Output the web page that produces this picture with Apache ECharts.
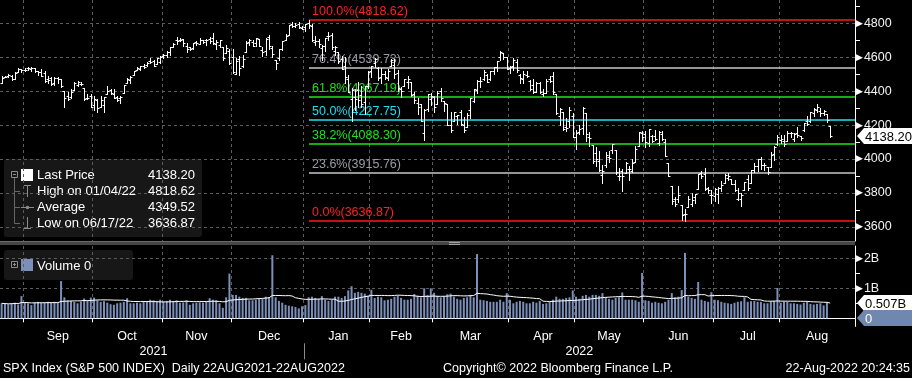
<!DOCTYPE html>
<html>
<head>
<meta charset="utf-8">
<title>SPX Index</title>
<script src="https://cdn.jsdelivr.net/npm/echarts@6/dist/echarts.min.js"></script>
<style>
html, body { margin: 0; padding: 0; background: #000; }
#main { width: 912px; height: 378px; }
</style>
</head>
<body>
<div id="main"></div>
<script>
// trading days per month (Aug 2022 runs to month end, later days have no data)
var months = ['2021-08', '2021-09', '2021-10', '2021-11', '2021-12', '2022-01', '2022-02',
              '2022-03', '2022-04', '2022-05', '2022-06', '2022-07', '2022-08'];
var monthDays = [
  [23,24,25,26,27,30,31],
  [1,2,3,7,8,9,10,13,14,15,16,17,20,21,22,23,24,27,28,29,30],
  [1,4,5,6,7,8,11,12,13,14,15,18,19,20,21,22,25,26,27,28,29],
  [1,2,3,4,5,8,9,10,11,12,15,16,17,18,19,22,23,24,26,29,30],
  [1,2,3,6,7,8,9,10,13,14,15,16,17,20,21,22,23,27,28,29,30,31],
  [3,4,5,6,7,10,11,12,13,14,18,19,20,21,24,25,26,27,28,31],
  [1,2,3,4,7,8,9,10,11,14,15,16,17,18,22,23,24,25,28],
  [1,2,3,4,7,8,9,10,11,14,15,16,17,18,21,22,23,24,25,28,29,30,31],
  [1,4,5,6,7,8,11,12,13,14,18,19,20,21,22,25,26,27,28,29],
  [2,3,4,5,6,9,10,11,12,13,16,17,18,19,20,23,24,25,26,27,31],
  [1,2,3,6,7,8,9,10,13,14,15,16,17,21,22,23,24,27,28,29,30],
  [1,5,6,7,8,11,12,13,14,15,18,19,20,21,22,25,26,27,28,29],
  [1,2,3,4,5,8,9,10,11,12,15,16,17,18,19,22,23,24,25,26,29,30,31]
];
var monthNames = ['Jan','Feb','Mar','Apr','May','Jun','Jul','Aug','Sep','Oct','Nov','Dec'];

var open = [
  4450,4484,4490,4493,4474,4514,4529,
  4528,4535,4533,4535,4518,4514,4506,4474,4479,4447,4477,4470,4402,4375,4367,4407,4438,4443,4419,4362,4371,
  4317,4348,4310,4320,4384,4407,4386,4368,4358,4387,4448,4464,4497,4524,4532,4547,4554,4579,4580,4562,4573,
  4610,4613,4631,4663,4700,4702,4707,4670,4660,4655,4689,4679,4701,4701,4709,4713,4679,4675,4664,4628,4640,
  4602,4504,4589,4548,4632,4690,4691,4688,4710,4642,4637,4720,4653,4587,4594,4650,4703,4733,4796,4788,4795,4776,
  4778,4804,4787,4693,4698,4655,4670,4728,4733,4637,4632,4588,4547,4471,4357,4367,4409,4380,4336,4432,
  4519,4566,4536,4482,4505,4480,4547,4553,4507,4413,4430,4456,4456,4385,4333,4324,4155,4298,4355,
  4364,4322,4401,4342,4327,4203,4224,4252,4280,4202,4188,4289,4345,4407,4463,4470,4494,4470,4522,4541,4603,4624,4600,
  4540,4548,4573,4495,4475,4495,4463,4437,4397,4449,4386,4390,4473,4490,4385,4256,4278,4188,4223,4254,
  4130,4159,4181,4270,4129,4081,4035,3991,3904,3963,4013,4052,4051,3900,3927,3920,3942,3929,3985,4078,4151,
  4150,4096,4137,4134,4097,4148,4102,3974,3838,3764,3765,3729,3675,3715,3733,3774,3821,3920,3913,3826,3786,
  3782,3792,3831,3858,3889,3880,3851,3762,3763,3818,3884,3861,3936,3956,3999,3966,3953,3951,4027,4088,
  4113,4105,4107,4154,4116,4156,4134,4171,4227,4225,4270,4291,4281,4273,4267,4195
];
var high = [
  4489,4492,4502,4495,4513,4538,4531,
  4537,4546,4541,4535,4522,4529,4521,4492,4485,4486,4485,4471,4402,4394,4416,4453,4463,4457,4419,4385,4383,
  4375,4356,4370,4365,4429,4413,4415,4374,4372,4439,4476,4488,4521,4541,4551,4560,4573,4599,4585,4597,4608,
  4620,4636,4664,4683,4718,4714,4708,4685,4664,4688,4697,4715,4701,4708,4718,4744,4701,4702,4664,4672,4647,
  4652,4595,4608,4612,4695,4706,4705,4713,4711,4660,4713,4732,4666,4587,4651,4697,4740,4791,4807,4804,4808,4787,
  4797,4818.62,4798,4725,4707,4673,4715,4749,4745,4666,4632,4611,4603,4495,4418,4411,4454,4429,4432,4517,
  4551,4595,4542,4540,4521,4531,4590,4589,4527,4427,4473,4490,4457,4395,4363,4325,4295,4385,4388,
  4375,4401,4417,4342,4327,4277,4279,4262,4292,4248,4272,4358,4412,4465,4482,4523,4501,4520,4546,4576,4637,4627,4603,
  4548,4594,4593,4503,4521,4521,4464,4471,4453,4452,4411,4471,4489,4513,4386,4300,4278,4240,4308,4269,
  4169,4200,4308,4270,4158,4081,4069,4050,3964,4039,4047,4090,4051,3946,3944,3982,3956,3999,4076,4158,4168,
  4166,4178,4142,4169,4165,4165,4119,3975,3838,3778,3838,3729,3707,3780,3802,3796,3914,3928,3945,3836,3818,
  3829,3832,3871,3910,3919,3880,3874,3829,3797,3864,3903,3938,3975,3999,4013,3975,3954,4040,4078,4141,
  4144,4141,4168,4162,4152,4187,4138,4212,4257,4280,4301,4325,4303,4292,4267,4196
];
var low = [
  4450,4482,4486,4468,4472,4514,4515,
  4522,4527,4521,4513,4494,4493,4457,4446,4435,4439,4448,4427,4306,4347,4360,4407,4430,4437,4346,4352,4306,
  4289,4279,4310,4278,4384,4386,4361,4342,4330,4387,4448,4448,4497,4524,4527,4538,4548,4569,4551,4562,4567,
  4595,4604,4617,4662,4681,4697,4670,4630,4646,4651,4672,4679,4684,4673,4683,4680,4652,4659,4586,4625,4560,
  4510,4504,4495,4541,4632,4675,4665,4670,4666,4606,4612,4652,4600,4531,4583,4645,4703,4733,4780,4778,4775,4765,
  4758,4775,4699,4671,4663,4582,4638,4703,4651,4614,4569,4530,4450,4395,4223,4287,4305,4309,4264,4418,
  4485,4544,4465,4451,4471,4465,4547,4477,4402,4365,4430,4422,4374,4328,4267,4222,4115,4286,4318,
  4279,4322,4345,4284,4199,4157,4224,4205,4200,4162,4188,4245,4335,4390,4425,4469,4455,4465,4502,4518,4582,4589,4530,
  4507,4528,4515,4450,4450,4485,4409,4387,4394,4392,4371,4390,4452,4384,4268,4200,4174,4163,4188,4128,
  4062,4147,4148,4107,4076,3975,3958,3928,3859,3954,3984,4034,3913,3877,3810,3919,3875,3925,3985,4078,4104,
  4073,4075,4099,4110,4081,4111,4017,3900,3735,3722,3744,3640,3636.87,3715,3723,3743,3821,3889,3820,3799,3738,
  3752,3742,3809,3858,3876,3850,3814,3759,3722,3818,3819,3861,3922,3927,3939,3937,3911,3951,3992,4080,
  4097,4079,4104,4128,4108,4128,4112,4165,4201,4218,4257,4278,4253,4262,4218,4131
];
var close = [
  4480,4486,4496,4470,4509,4529,4523,
  4524,4537,4535,4520,4514,4493,4459,4469,4443,4481,4474,4433,4358,4354,4396,4449,4455,4443,4353,4359,4308,
  4357,4300,4346,4364,4400,4391,4361,4351,4364,4438,4471,4486,4520,4536,4550,4545,4566,4575,4552,4596,4605,
  4614,4631,4661,4680,4698,4702,4685,4647,4649,4683,4683,4701,4689,4705,4698,4683,4691,4701,4595,4655,4567,
  4513,4577,4538,4592,4687,4701,4667,4712,4669,4634,4710,4669,4621,4568,4649,4697,4726,4791,4786,4793,4779,4766,
  4797,4794,4701,4696,4677,4670,4713,4726,4659,4663,4577,4533,4483,4398,4410,4356,4350,4327,4432,4516,
  4547,4589,4477,4501,4484,4522,4587,4504,4419,4402,4471,4475,4380,4349,4305,4226,4289,4385,4374,
  4306,4387,4363,4329,4201,4171,4278,4260,4204,4173,4262,4358,4412,4463,4461,4512,4456,4520,4543,4576,4632,4602,4530,
  4546,4583,4525,4481,4500,4488,4413,4397,4447,4393,4392,4462,4459,4394,4272,4296,4175,4184,4288,4132,
  4155,4175,4300,4147,4123,3991,4001,3935,3930,4024,4008,4089,3924,3901,3901,3974,3941,3979,4058,4158,4132,
  4101,4177,4109,4121,4161,4116,4018,3901,3750,3735,3790,3667,3675,3765,3760,3796,3912,3900,3822,3819,3785,
  3825,3831,3845,3903,3899,3854,3819,3802,3790,3863,3831,3937,3960,3999,3962,3967,3921,4024,4072,4130,
  4119,4091,4155,4152,4145,4140,4122,4210,4207,4280,4297,4305,4274,4284,4228,4138.2
];
// volume in billions
var volume = [
  0.50,0.48,0.47,0.50,0.52,0.46,0.74,
  0.52,0.50,0.44,0.53,0.55,0.52,0.53,0.55,0.53,0.55,0.52,1.24,0.70,0.60,0.58,0.55,0.50,0.56,0.66,0.60,0.69,
  0.69,0.60,0.55,0.57,0.52,0.47,0.45,0.50,0.52,0.55,0.67,0.50,0.50,0.52,0.50,0.58,0.55,0.62,0.60,0.58,0.62,
  0.55,0.58,0.62,0.58,0.60,0.52,0.53,0.60,0.45,0.50,0.52,0.53,0.52,0.55,0.67,0.62,0.60,0.50,0.35,0.70,1.49,
  0.78,0.78,0.72,0.68,0.68,0.60,0.60,0.62,0.65,0.65,0.72,0.70,2.10,0.70,0.58,0.52,0.45,0.42,0.40,0.38,0.33,0.40,
  0.44,0.70,0.72,0.68,0.65,0.74,0.62,0.58,0.62,0.72,0.72,0.68,0.74,0.93,1.07,0.85,0.88,0.85,0.82,0.75,
  0.95,0.68,0.72,0.70,0.60,0.62,0.65,0.72,0.75,0.68,0.62,0.62,0.65,0.81,0.75,0.70,1.00,0.78,1.00,
  0.85,0.75,0.70,0.72,0.80,0.82,0.72,0.65,0.62,0.68,0.70,0.78,0.70,2.14,0.62,0.60,0.58,0.55,0.55,0.55,0.62,0.55,0.84,
  0.62,0.50,0.55,0.58,0.55,0.50,0.50,0.55,0.52,0.58,0.48,0.50,0.55,0.62,0.72,0.65,0.65,0.68,0.70,0.93,
  0.72,0.65,0.75,0.78,0.72,0.78,0.78,0.75,0.84,0.70,0.65,0.62,0.68,0.70,0.86,0.62,0.62,0.62,0.60,0.55,1.51,
  0.60,0.58,0.52,0.55,0.52,0.50,0.55,0.62,0.84,0.70,0.72,0.94,2.18,0.72,0.68,0.65,1.21,0.62,0.58,0.55,0.87,
  0.62,0.60,0.55,0.52,0.50,0.48,0.52,0.55,0.57,0.70,0.55,0.57,0.58,0.55,0.55,0.50,0.50,0.57,0.58,1.01,
  0.52,0.55,0.55,0.50,0.50,0.48,0.46,0.52,0.55,0.48,0.46,0.48,0.50,0.43,0.53,0
];

// fibonacci retracement from the 01/04/22 high to the 06/17/22 low
var fibStartDate = '2022-01-04';
var fibLevels = [4818.62, 4539.73, 4367.19, 4227.75, 4088.30, 3915.76, 3636.87];
var fibLabels = ['100.0%(4818.62)', '76.4%(4539.73)', '61.8%(4367.19)', '50.0%(4227.75)',
                 '38.2%(4088.30)', '23.6%(3915.76)', '0.0%(3636.87)'];
var fibLineColors = ['#ff1a1a', '#c8c8c8', '#1ee61e', '#1ee6f5', '#1ee61e', '#c8c8c8', '#ff1a1a'];
var fibTextColors = ['#ff2020', '#9a9aa8', '#20e020', '#20dcf0', '#20e020', '#9a9aa8', '#ff2020'];

var lastPrice = 4138.20;
var volTagValues = [0.507, 0];
var volTagTexts = ['0.507B', '0'];

var FONT = '"Liberation Sans", Arial, sans-serif';

// categories
var cats = [];
months.forEach(function (m, k) {
  monthDays[k].forEach(function (d) { cats.push(m + '-' + (d < 10 ? '0' + d : d)); });
});
var monthStart = {}, monthMid = {};
var pos = 0;
monthDays.forEach(function (days, k) {
  if (k > 0) monthStart[pos] = true;
  if (days.length > 15) monthMid[Math.floor(pos + days.length / 2)] = true;
  pos += days.length;
});
var yearSplit = 0;
while (cats[yearSplit].slice(0, 4) === '2021') yearSplit++;
var yearMid = {};
yearMid[Math.floor(yearSplit / 2)] = true;
yearMid[Math.floor((yearSplit + cats.length) / 2)] = true;
var fibStart = cats.indexOf(fibStartDate);
var lastIdx = close.length - 1;

var ohlc = close.map(function (c, i) { return [i, open[i], high[i], low[i], c]; });

// 20-day volume average
var volAvg = volume.map(function (v, i) {
  var s = 0, n = 0;
  for (var j = Math.max(0, i - 19); j <= i; j++) { s += volume[j]; n++; }
  return +(s / n).toFixed(3);
});

var chart = echarts.init(document.getElementById('main'));

function line(x1, y1, x2, y2, color, w) {
  return { type: 'line', shape: { x1: x1, y1: y1, x2: x2, y2: y2 }, style: { stroke: color, lineWidth: w || 1 } };
}

function renderBar(params, api) {
  var i = api.value(0);
  var pO = api.coord([i, api.value(1)]);
  var pH = api.coord([i, api.value(2)]);
  var pL = api.coord([i, api.value(3)]);
  var pC = api.coord([i, api.value(4)]);
  var x = Math.round(pO[0]) + 0.5;
  var yo = Math.round(pO[1]) + 0.5, yc = Math.round(pC[1]) + 0.5;
  return {
    type: 'group',
    children: [
      line(x, Math.round(pH[1]), x, Math.round(pL[1]) + 1, '#fff'),
      line(x - 2, yo, x, yo, '#fff'),
      line(x, yc, x + 2, yc, '#fff')
    ]
  };
}

function renderFib(params, api) {
  var k = params.dataIndex;
  var p = api.coord([api.value(0), api.value(1)]);
  var x2 = params.coordSys.x + params.coordSys.width;
  var y = Math.round(p[1]);
  return {
    type: 'group',
    children: [
      line(Math.round(p[0]), y, x2, y, fibLineColors[k], 1.6),
      { type: 'text', x: Math.round(p[0]) + 3, y: y - 2,
        style: { text: fibLabels[k], fill: fibTextColors[k], fontSize: 12.5, fontFamily: FONT,
                 align: 'left', verticalAlign: 'bottom' } }
    ]
  };
}

function tag(api, params, value, text, boxColor, textColor) {
  var p = api.coord([api.value(0), value]);
  var x0 = params.coordSys.x + params.coordSys.width + 2;
  var y = Math.round(p[1]);
  var w = api.getWidth();
  return {
    type: 'group',
    children: [
      { type: 'polygon', shape: { points: [[x0, y], [x0 + 7, y - 8], [w, y - 8], [w, y + 8], [x0 + 7, y + 8]] },
        style: { fill: boxColor } },
      { type: 'text', x: x0 + 8, y: y + 1,
        style: { text: text, fill: textColor, fontSize: 13, fontFamily: FONT, align: 'left', verticalAlign: 'middle' } }
    ]
  };
}

function renderPriceTag(params, api) {
  return tag(api, params, api.value(1), lastPrice.toFixed(2), '#ffffff', '#000');
}

function renderVolTag(params, api) {
  var k = params.dataIndex;
  return tag(api, params, api.value(1), volTagTexts[k], k === 0 ? '#ffffff' : '#7088ad', k === 0 ? '#000' : '#fff');
}

function renderFrame(params, api) {
  var cs = params.coordSys;
  var bw = api.size([1, 0])[0];
  var xs = Math.round(api.coord([api.value(0), 0])[0] - bw / 2) + 0.5;
  var bottom = cs.y + cs.height;
  var xr = cs.x + cs.width + 0.5;
  return {
    type: 'group',
    children: [
      line(xs, bottom + 25, xs, bottom + 41, '#8a8a8a'),
      line(xr, bottom, xr, bottom + 8.5, '#fff')
    ]
  };
}

var gridLine = { color: '#5c5c5c', type: [3, 3], width: 1 };

var option = {
  backgroundColor: '#000',
  animation: false,
  grid: [
    { left: 0, top: 0, width: 855, height: 241 },
    { left: 0, top: 246, width: 855, height: 72.3 }
  ],
  xAxis: [
    {
      type: 'category', gridIndex: 0, data: cats, boundaryGap: true,
      axisLine: { show: false }, axisTick: { show: false }, axisLabel: { show: false },
      splitLine: { show: true, interval: function (i) { return !!monthStart[i]; }, lineStyle: gridLine }
    },
    {
      type: 'category', gridIndex: 1, data: cats, boundaryGap: true, position: 'bottom', offset: 8,
      axisLine: { show: true, lineStyle: { color: '#fff', width: 1 } },
      axisTick: { show: true, length: 4, interval: function (i) { return !!monthStart[i]; }, lineStyle: { color: '#fff' } },
      axisLabel: {
        interval: function (i) { return !!monthMid[i]; },
        formatter: function (v) { return monthNames[+v.slice(5, 7) - 1]; },
        color: '#fff', fontSize: 12.5, fontFamily: FONT, margin: 4
      },
      splitLine: { show: true, interval: function (i) { return !!monthStart[i]; }, lineStyle: gridLine }
    },
    {
      type: 'category', gridIndex: 1, data: cats, boundaryGap: true, position: 'bottom', offset: 24,
      axisLine: { show: false }, axisTick: { show: false }, splitLine: { show: false },
      axisLabel: {
        interval: function (i) { return !!yearMid[i]; },
        formatter: function (v) { return v.slice(0, 4); },
        color: '#fff', fontSize: 12.5, fontFamily: FONT, margin: 3
      }
    }
  ],
  yAxis: [
    {
      type: 'value', gridIndex: 0, position: 'right', min: 3516, max: 4939, splitNumber: 7,
      axisLine: { show: true, lineStyle: { color: '#fff' } },
      axisTick: { show: false },
      minorTick: { show: true, splitNumber: 2, length: 5, lineStyle: { color: '#fff' } },
      splitLine: { show: true, showMinLine: false, showMaxLine: false, lineStyle: gridLine },
      axisLabel: {
        margin: 1, showMinLabel: false, showMaxLabel: false,
        formatter: function (v) { return v % 200 === 0 ? '{t|\u25B6}{n|' + v + '}' : ''; },
        rich: {
          t: { color: '#fff', fontSize: 9, fontFamily: 'DejaVu Sans', padding: [0, 1, 0, 0] },
          n: { color: '#f2f2f2', fontSize: 12.5, fontFamily: FONT }
        }
      }
    },
    {
      type: 'value', gridIndex: 1, position: 'right', min: 0, max: 2.41, interval: 1,
      axisLine: { show: true, lineStyle: { color: '#fff' } },
      axisTick: { show: false },
      minorTick: { show: true, splitNumber: 2, length: 5, lineStyle: { color: '#fff' } },
      splitLine: { show: true, showMaxLine: false, lineStyle: gridLine },
      axisLabel: {
        margin: 1, showMaxLabel: false,
        formatter: function (v) { return (v === 1 || v === 2) ? '{t|\u25B6}{n|' + v + 'B}' : ''; },
        rich: {
          t: { color: '#fff', fontSize: 9, fontFamily: 'DejaVu Sans', padding: [0, 1, 0, 0] },
          n: { color: '#f2f2f2', fontSize: 12.5, fontFamily: FONT }
        }
      }
    }
  ],
  series: [
    {
      type: 'custom', name: 'Fib', xAxisIndex: 0, yAxisIndex: 0, z: 1, silent: true,
      renderItem: renderFib,
      data: fibLevels.map(function (v) { return [fibStart, v]; })
    },
    {
      type: 'custom', name: 'Last Price', xAxisIndex: 0, yAxisIndex: 0, z: 3,
      renderItem: renderBar,
      encode: { x: 0, y: [1, 2, 3, 4] },
      data: ohlc
    },
    {
      type: 'custom', name: 'tag', xAxisIndex: 0, yAxisIndex: 0, z: 10, clip: false,
      renderItem: renderPriceTag,
      data: [[lastIdx, lastPrice]]
    },
    {
      type: 'bar', name: 'Volume', xAxisIndex: 1, yAxisIndex: 1, barWidth: 2,
      itemStyle: { color: '#7b8fb8' },
      data: volume
    },
    {
      type: 'line', name: 'Volume avg', xAxisIndex: 1, yAxisIndex: 1, showSymbol: false, z: 4,
      lineStyle: { color: '#fff', width: 1 },
      data: volAvg
    },
    {
      type: 'custom', name: 'voltag', xAxisIndex: 1, yAxisIndex: 1, z: 10, clip: false,
      renderItem: renderVolTag,
      data: volTagValues.map(function (v) { return [lastIdx, v]; })
    },
    {
      type: 'custom', name: 'frame', xAxisIndex: 1, yAxisIndex: 1, z: 10, clip: false,
      renderItem: renderFrame,
      data: [[yearSplit, 0]]
    }
  ],
  graphic: [
    // panel divider
    { type: 'rect', shape: { x: 0, y: 241, width: 855, height: 4 }, style: { fill: '#464646' }, z: 20 },
    { type: 'rect', shape: { x: 0, y: 241, width: 855, height: 1 }, style: { fill: '#6a6a6a' }, z: 20 },
    { type: 'rect', shape: { x: 449, y: 242, width: 11, height: 1 }, style: { fill: '#a0a0a0' }, z: 21 },
    { type: 'rect', shape: { x: 449, y: 244, width: 11, height: 1 }, style: { fill: '#a0a0a0' }, z: 21 },
    // price legend
    {
      type: 'group', z: 30,
      children: [
        { type: 'rect', shape: { x: 4, y: 159, width: 198, height: 78, r: 3 }, style: { fill: '#171717' } },
        { type: 'rect', shape: { x: 11.5, y: 171.5, width: 6, height: 6 }, style: { fill: 'none', stroke: '#8a8a8a' } },
        line(13, 174.5, 16, 174.5, '#8a8a8a'),
        line(14.5, 178, 14.5, 223.5, '#666'),
        line(14.5, 191.5, 20, 191.5, '#666'),
        line(14.5, 207.5, 20, 207.5, '#666'),
        line(14.5, 223.5, 20, 223.5, '#666'),
        { type: 'rect', shape: { x: 21, y: 169, width: 12, height: 12 }, style: { fill: '#fff' } },
        line(24, 185.5, 31, 185.5, '#8a8a8a'),
        line(27.5, 185, 27.5, 197, '#8a8a8a'),
        line(21, 207.5, 34, 207.5, '#8a8a8a'),
        { type: 'circle', shape: { cx: 27.5, cy: 207.5, r: 1.8 }, style: { fill: '#8a8a8a' } },
        line(27.5, 217, 27.5, 229, '#8a8a8a'),
        line(24, 228.5, 31, 228.5, '#8a8a8a'),
        { type: 'text', x: 37, y: 175, style: { text: 'Last Price', fill: '#fff', font: '13px ' + FONT, verticalAlign: 'middle' } },
        { type: 'text', x: 37, y: 191, style: { text: 'High on 01/04/22', fill: '#fff', font: '13px ' + FONT, verticalAlign: 'middle' } },
        { type: 'text', x: 37, y: 207, style: { text: 'Average', fill: '#fff', font: '13px ' + FONT, verticalAlign: 'middle' } },
        { type: 'text', x: 37, y: 223, style: { text: 'Low on 06/17/22', fill: '#fff', font: '13px ' + FONT, verticalAlign: 'middle' } },
        { type: 'text', x: 195, y: 175, style: { text: '4138.20', fill: '#fff', font: '13px ' + FONT, align: 'right', verticalAlign: 'middle' } },
        { type: 'text', x: 195, y: 191, style: { text: '4818.62', fill: '#fff', font: '13px ' + FONT, align: 'right', verticalAlign: 'middle' } },
        { type: 'text', x: 195, y: 207, style: { text: '4349.52', fill: '#fff', font: '13px ' + FONT, align: 'right', verticalAlign: 'middle' } },
        { type: 'text', x: 195, y: 223, style: { text: '3636.87', fill: '#fff', font: '13px ' + FONT, align: 'right', verticalAlign: 'middle' } }
      ]
    },
    // volume legend
    {
      type: 'group', z: 30,
      children: [
        { type: 'rect', shape: { x: 4, y: 250, width: 129, height: 30, r: 3 }, style: { fill: '#171717' } },
        { type: 'rect', shape: { x: 11.5, y: 261.5, width: 6, height: 6 }, style: { fill: 'none', stroke: '#8a8a8a' } },
        line(13, 264.5, 16, 264.5, '#8a8a8a'),
        line(14.5, 263, 14.5, 266, '#8a8a8a'),
        { type: 'rect', shape: { x: 21, y: 259, width: 12, height: 12 }, style: { fill: '#7b8fb8' } },
        { type: 'text', x: 37, y: 266, style: { text: 'Volume 0', fill: '#fff', font: '13px ' + FONT, verticalAlign: 'middle' } }
      ]
    },
    // footer
    { type: 'text', left: 3, top: 362, style: { text: 'SPX Index (S&P 500 INDEX)  Daily 22AUG2021-22AUG2022', fill: '#fff', font: '12.5px ' + FONT } },
    { type: 'text', left: 443, top: 362, style: { text: 'Copyright\u00A9 2022 Bloomberg Finance L.P.', fill: '#fff', font: '12.5px ' + FONT } },
    { type: 'text', right: 2, top: 362, style: { text: '22-Aug-2022 20:24:35', fill: '#fff', font: '12.5px ' + FONT } }
  ]
};

chart.setOption(option);
</script>
</body>
</html>
